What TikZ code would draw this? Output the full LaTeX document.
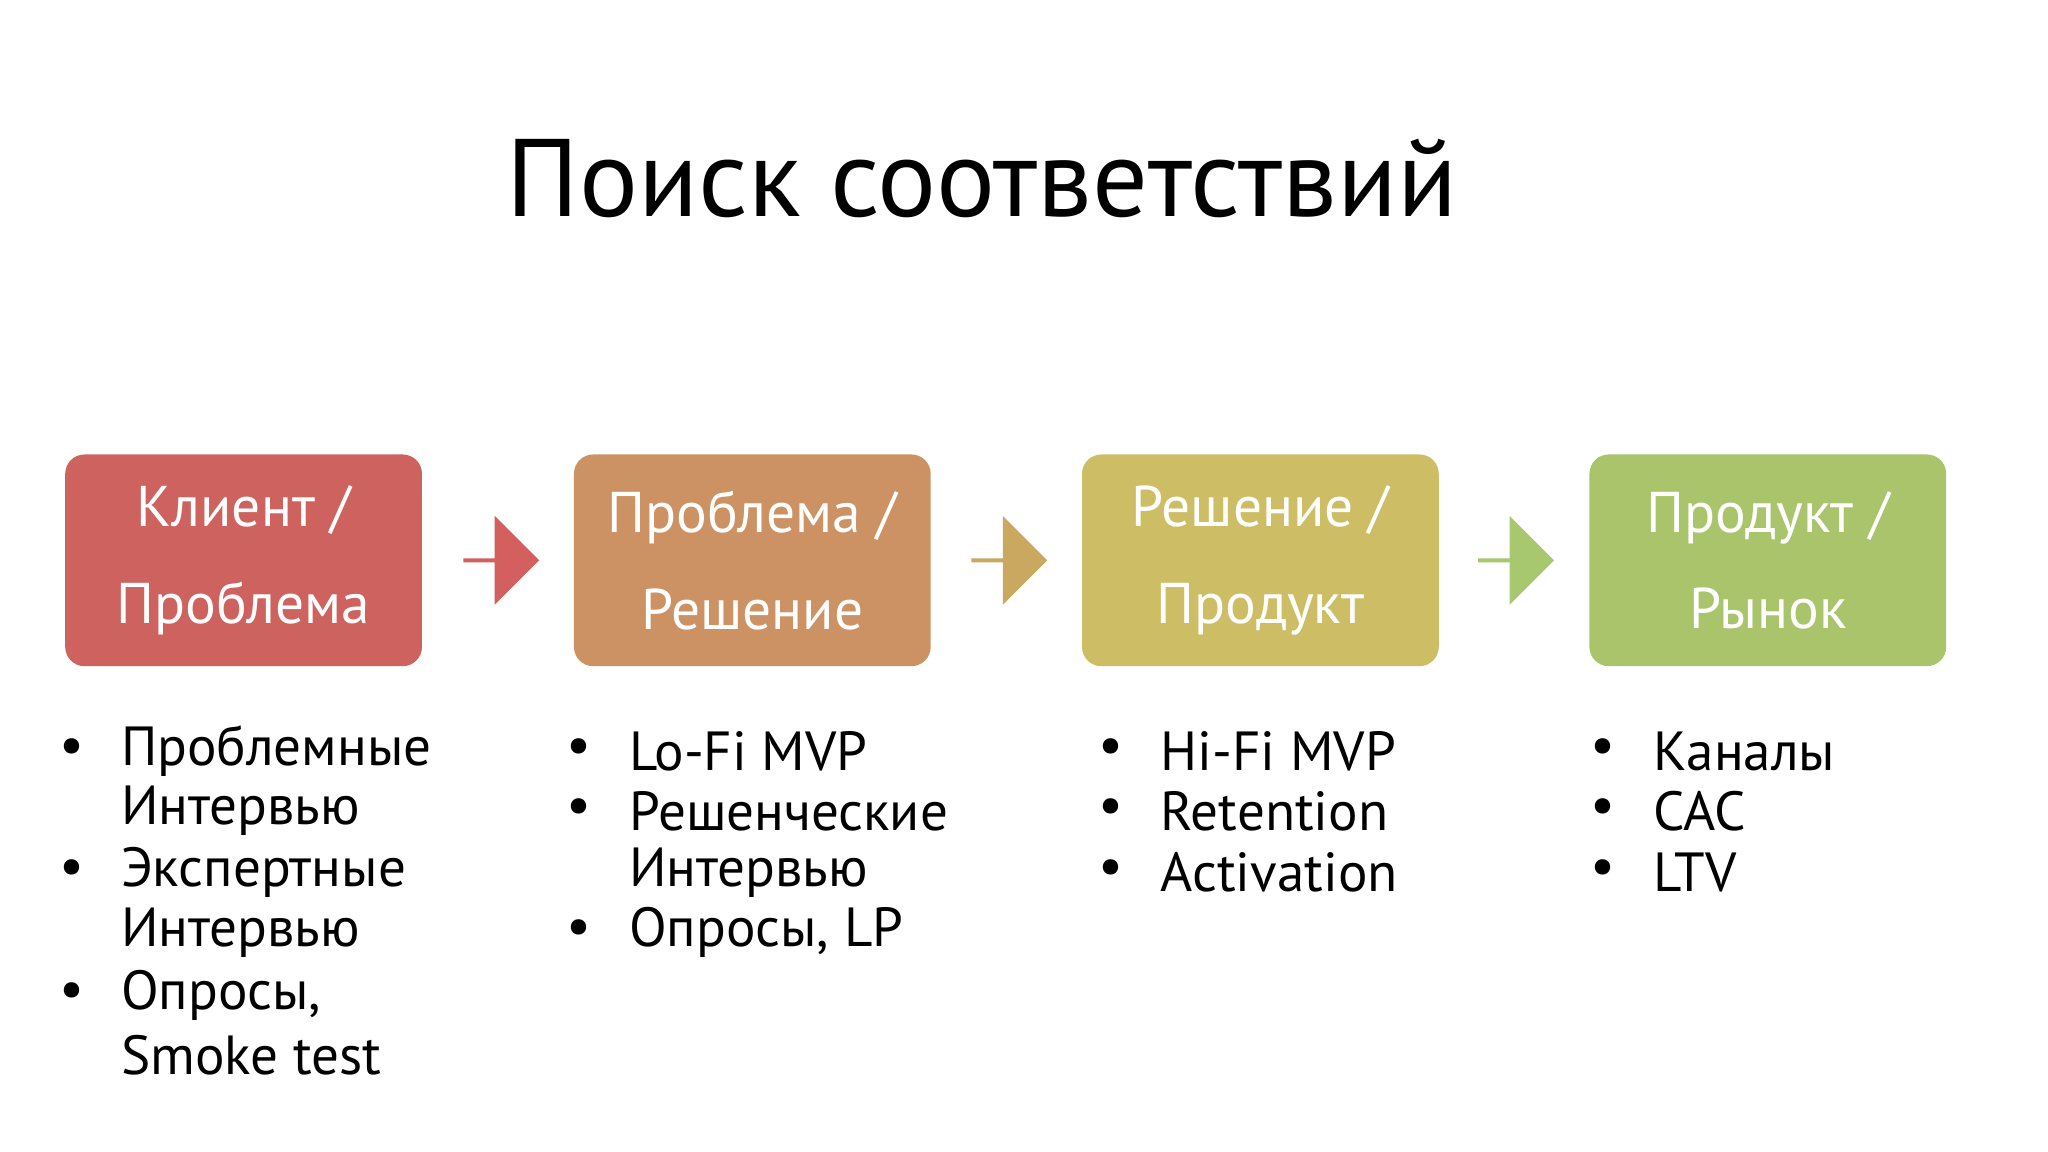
\documentclass[tikz,border=0pt]{standalone}
\usepackage{fontspec}
\setmainfont{PT Sans}
\usetikzlibrary{shapes.arrows}
\definecolor{cA}{HTML}{CD625E}
\definecolor{cB}{HTML}{CC9263}
\definecolor{cC}{HTML}{CDBE66}
\definecolor{cD}{HTML}{A9C46B}
\definecolor{aA}{HTML}{D45F5F}
\definecolor{aB}{HTML}{CBA860}
\definecolor{aC}{HTML}{A8C870}
\tikzset{
 stage/.style={rounded corners=12pt*0.35,minimum width=2.73cm,minimum height=1.62cm,text=white,font=\fontsize{12.5}{21}\selectfont,align=center,inner sep=0pt},
 arr/.style={single arrow,minimum width=0.68cm,minimum height=0.58cm,single arrow head extend=0.15cm,single arrow tip angle=90,inner sep=0pt,shape border rotate=0},
 bul/.style={anchor=west,font=\fontsize{12}{14}\selectfont,inner sep=0pt},
}
\begin{document}
\begin{tikzpicture}[x=0.01cm,y=-0.01cm]
\useasboundingbox[fill=white] (0,0) rectangle (1568,882);
\node[font=\fontsize{24}{28}\selectfont] (title) at (752,137) {Поиск соответствий};
\node[stage,fill=cA] (b1) at (186.5,429) {Клиент /\\Проблема};
\node[stage,fill=cB] (b2) at (576,429) {Проблема /\\Решение};
\node[stage,fill=cC] (b3) at (965,429) {Решение /\\Продукт};
\node[stage,fill=cD] (b4) at (1353.5,429) {Продукт /\\Рынок};
\node[arr,fill=aA] (a1) at (383,429) {};
\node[arr,fill=aB] (a2) at (772,429) {};
\node[arr,fill=aC] (a3) at (1160,429) {};
% column 1
\foreach \y/\t in {575/Проблемные,621/Интервью,668/Экспертные,714/Интервью,762/{Опросы,},808/Smoke test}
  \node[bul] (c1\y) at (92,\y) {\t};
\foreach \y in {575,668,762} \node[bul] (d1\y) at (45,\y) {•};
% column 2
\foreach \y/\t in {575/Lo-Fi MVP,621/Решенческие,668/Интервью,714/{Опросы, LP}}
  \node[bul] (c2\y) at (481,\y) {\t};
\foreach \y in {575,621,714} \node[bul] (d2\y) at (433,\y) {•};
% column 3
\foreach \y/\t in {575/Hi-Fi MVP,621/Retention,668/Activation}
  \node[bul] (c3\y) at (888,\y) {\t};
\foreach \y in {575,621,668} \node[bul] (d3\y) at (840,\y) {•};
% column 4
\foreach \y/\t in {575/Каналы,621/CAC,668/LTV}
  \node[bul] (c4\y) at (1265,\y) {\t};
\foreach \y in {575,621,668} \node[bul] (d4\y) at (1217,\y) {•};
\end{tikzpicture}
\end{document}
